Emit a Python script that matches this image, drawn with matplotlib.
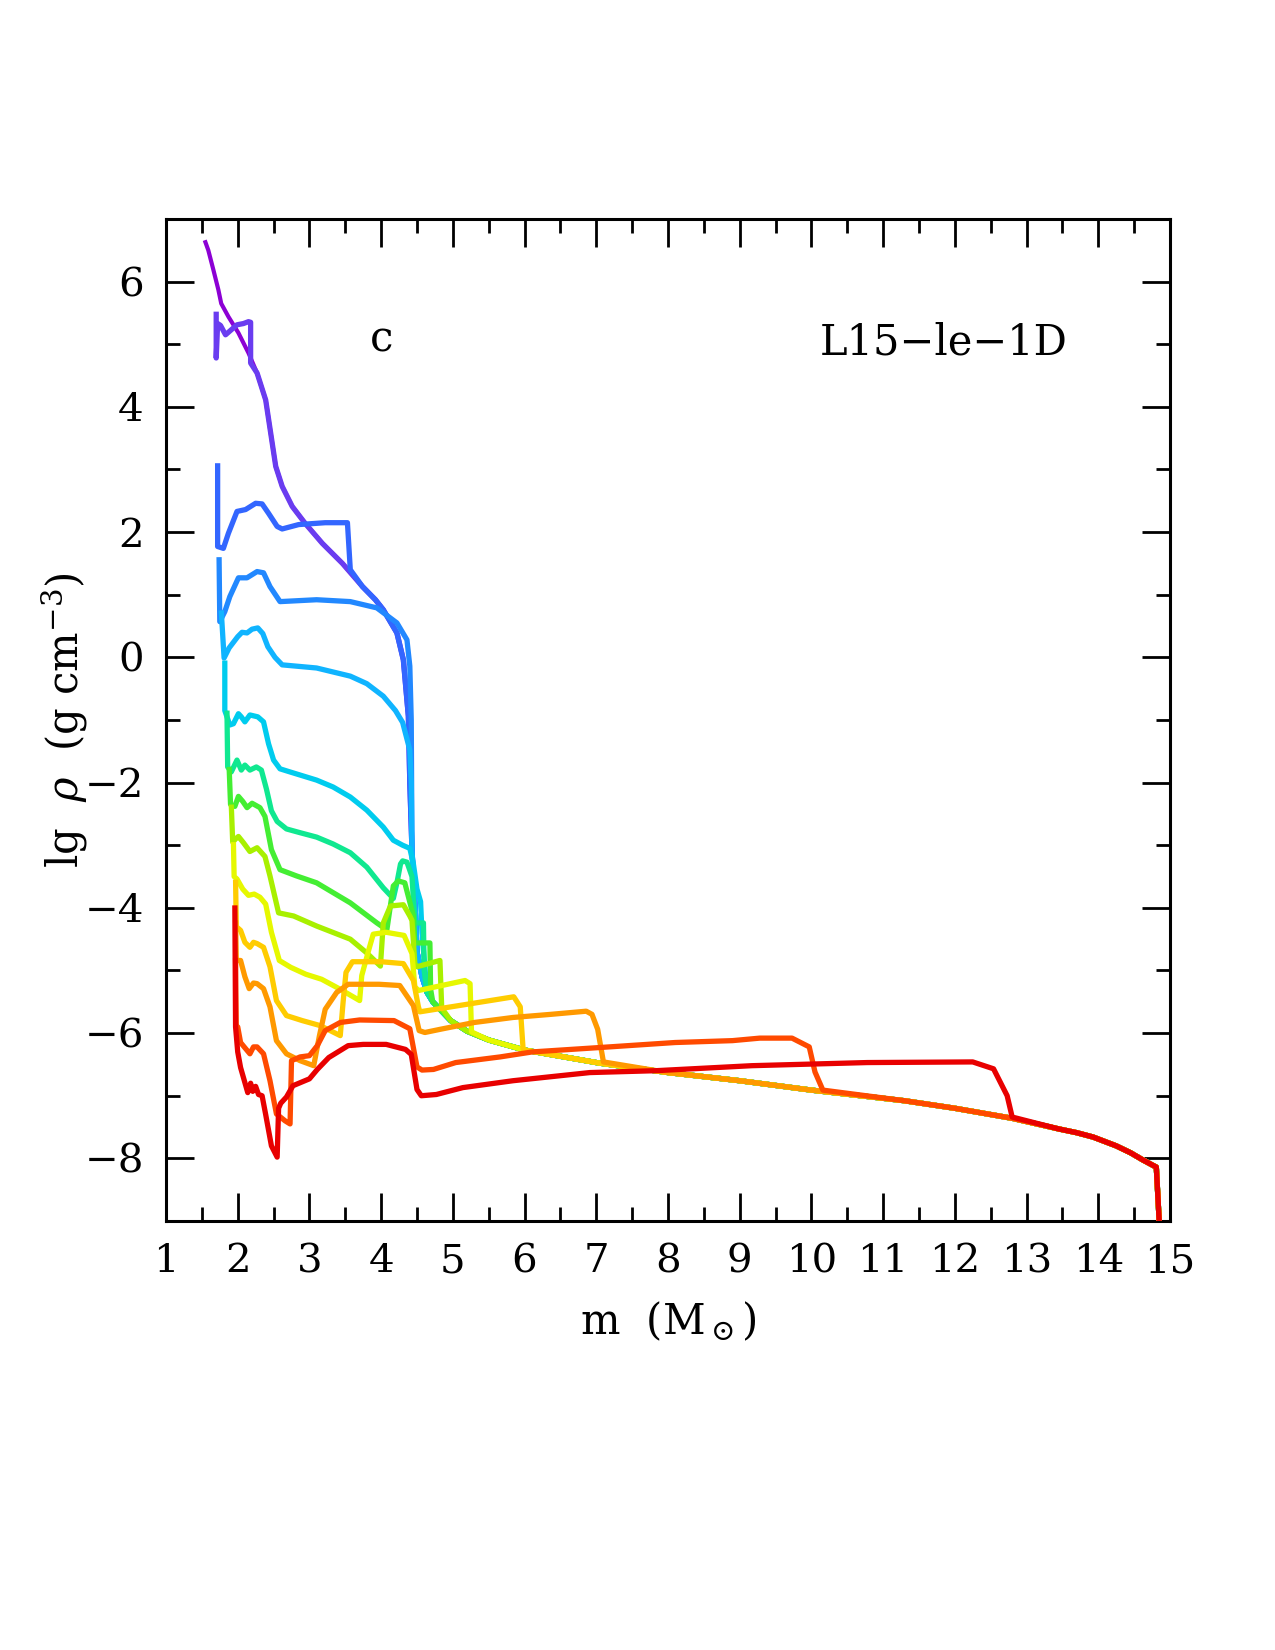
import matplotlib
matplotlib.use("Agg")
import matplotlib.pyplot as plt
import numpy as np

plt.rcParams['font.family'] = ['DejaVu Serif']
plt.rcParams['mathtext.fontset'] = 'dejavuserif'

# ---- progenitor (inner part) and common outer envelope ----
prog_m = [1.54, 1.59, 1.66, 1.73, 1.77, 1.87, 2.01, 2.15, 2.27, 2.39, 2.46, 2.53, 2.62,
          2.76, 2.94, 3.18, 3.46, 3.74, 3.92, 4.03, 4.22, 4.31, 4.38, 4.40, 4.43, 4.48]
prog_v = [6.66, 6.50, 6.19, 5.87, 5.65, 5.44, 5.18, 4.86, 4.54, 4.11, 3.58, 3.05, 2.73,
          2.41, 2.14, 1.82, 1.50, 1.13, 0.92, 0.76, 0.39, -0.04, -0.94, -2.00, -3.07, -4.13]
env_m = [4.50, 4.57, 4.64, 4.72, 4.82, 4.97, 5.20, 5.50, 6.00, 7.05, 8.00, 9.00, 10.00,
         11.30, 12.00, 12.80, 13.45, 13.70, 13.93, 14.25, 14.45, 14.63, 14.81, 14.85]
env_v = [-4.70, -5.10, -5.35, -5.50, -5.62, -5.80, -5.97, -6.11, -6.27, -6.48, -6.63, -6.76, -6.91,
         -7.08, -7.20, -7.36, -7.53, -7.59, -7.66, -7.80, -7.91, -8.03, -8.14, -9.00]

# ---- individual profiles (own part, before joining the progenitor/envelope) ----
violet_m = [1.70, 1.70, 1.72, 1.76, 1.83, 1.90, 1.99, 2.08, 2.15, 2.18, 2.18]
violet_v = [5.52, 4.78, 5.33, 5.30, 5.15, 5.22, 5.31, 5.33, 5.36, 5.35, 4.70]

blue_m = [1.72, 1.72, 1.80, 1.87, 1.99, 2.11, 2.25, 2.34, 2.43, 2.55, 2.62, 2.85, 3.22, 3.53, 3.57]
blue_v = [3.10, 1.77, 1.74, 1.98, 2.33, 2.36, 2.46, 2.45, 2.30, 2.09, 2.05, 2.12, 2.15, 2.15, 1.40]

azure_m = [1.74, 1.75, 1.82, 1.89, 2.01, 2.13, 2.27, 2.36, 2.45, 2.59, 3.10, 3.57, 3.94, 4.22,
           4.36, 4.40, 4.42]
azure_v = [1.60, 0.57, 0.73, 0.97, 1.27, 1.27, 1.37, 1.35, 1.13, 0.89, 0.92, 0.89, 0.79, 0.55,
           0.28, -0.14, -1.00]

lblue_m = [1.77, 1.81, 1.88, 2.00, 2.06, 2.13, 2.20, 2.28, 2.35, 2.42, 2.52, 2.62, 3.10, 3.57,
           3.80, 4.03, 4.20, 4.30, 4.40, 4.42]
lblue_v = [0.75, -0.01, 0.15, 0.33, 0.40, 0.39, 0.45, 0.47, 0.38, 0.17, 0.00, -0.12, -0.17, -0.30,
           -0.42, -0.62, -0.85, -1.04, -1.48, -2.00]

cyan_m = [1.82, 1.82, 1.89, 1.94, 2.01, 2.05, 2.10, 2.17, 2.28, 2.36, 2.43, 2.50, 2.59, 2.73,
          3.10, 3.33, 3.57, 3.80, 4.03, 4.17, 4.30, 4.40, 4.45, 4.50, 4.55, 4.57]
cyan_v = [-0.05, -0.85, -1.08, -1.06, -0.90, -0.95, -1.03, -0.92, -0.95, -1.03, -1.38, -1.64,
          -1.78, -1.83, -1.96, -2.07, -2.23, -2.44, -2.71, -2.92, -3.00, -3.05, -3.30, -3.70,
          -3.90, -4.40]

sgreen_m = [1.85, 1.86, 1.91, 1.99, 2.05, 2.10, 2.17, 2.26, 2.33, 2.40, 2.47, 2.55, 2.68, 2.87,
            3.10, 3.33, 3.57, 3.80, 4.03, 4.17, 4.22, 4.27, 4.30, 4.36, 4.43, 4.47, 4.59, 4.60]
sgreen_v = [-0.85, -1.75, -1.83, -1.64, -1.80, -1.72, -1.80, -1.75, -1.80, -2.10, -2.45, -2.62,
            -2.74, -2.80, -2.87, -2.98, -3.12, -3.35, -3.68, -3.85, -3.60, -3.30, -3.25, -3.27,
            -3.50, -4.24, -4.24, -5.00]

green_m = [1.88, 1.90, 1.96, 2.01, 2.07, 2.13, 2.20, 2.31, 2.38, 2.47, 2.59, 2.82, 3.10, 3.57,
           3.94, 4.08, 4.17, 4.24, 4.33, 4.45, 4.47, 4.68, 4.69]
green_v = [-1.75, -2.35, -2.38, -2.22, -2.30, -2.40, -2.33, -2.40, -2.54, -3.07, -3.39, -3.49,
           -3.60, -3.92, -4.24, -4.35, -3.65, -3.57, -3.60, -4.13, -4.56, -4.56, -5.30]

chart_m = [1.91, 1.93, 1.97, 2.01, 2.08, 2.17, 2.27, 2.38, 2.45, 2.57, 2.78, 3.10, 3.57, 3.80,
           3.99, 4.03, 4.13, 4.31, 4.40, 4.43, 4.47, 4.50, 4.82, 4.845]
chart_v = [-2.35, -2.95, -2.90, -2.86, -2.96, -3.10, -3.04, -3.18, -3.49, -4.08, -4.13, -4.29,
           -4.50, -4.72, -4.93, -4.24, -3.97, -3.95, -4.13, -4.20, -4.89, -4.94, -4.84, -5.60]

yellow_m = [1.94, 1.95, 1.99, 2.07, 2.15, 2.23, 2.31, 2.39, 2.47, 2.58, 2.74, 2.95, 3.17, 3.43,
            3.70, 3.73, 3.83, 3.89, 4.07, 4.32, 4.43, 4.47, 4.52, 5.17, 5.24, 5.26]
yellow_v = [-2.95, -3.50, -3.54, -3.70, -3.80, -3.78, -3.83, -3.94, -4.39, -4.84, -4.95, -5.06,
            -5.14, -5.30, -5.48, -5.08, -4.66, -4.42, -4.39, -4.44, -4.73, -5.26, -5.32, -5.16,
            -5.21, -5.98]

gold_m = [1.97, 1.98, 2.04, 2.10, 2.17, 2.22, 2.27, 2.36, 2.45, 2.54, 2.68, 2.90, 3.15, 3.43,
          3.47, 3.51, 3.60, 4.00, 4.31, 4.45, 4.52, 4.54, 5.85, 5.94, 5.98]
gold_v = [-3.55, -4.30, -4.36, -4.55, -4.63, -4.55, -4.57, -4.63, -4.94, -5.48, -5.72, -5.80,
          -5.88, -6.04, -5.50, -5.03, -4.86, -4.86, -4.89, -5.16, -5.58, -5.66, -5.42, -5.58,
          -6.26]

orange_m = [1.97, 1.98, 2.04, 2.10, 2.16, 2.22, 2.27, 2.36, 2.45, 2.54, 2.68, 2.87, 3.06, 3.14,
            3.22, 3.38, 3.54, 3.97, 4.26, 4.45, 4.53, 4.61, 4.82, 5.30, 5.84, 6.37, 6.86, 6.94,
            7.02, 7.10]
orange_v = [-4.20, -4.84, -4.84, -5.10, -5.29, -5.20, -5.21, -5.29, -5.58, -6.12, -6.33, -6.44,
            -6.52, -6.04, -5.62, -5.35, -5.22, -5.22, -5.24, -5.56, -5.96, -5.99, -5.94, -5.83,
            -5.75, -5.70, -5.65, -5.70, -5.94, -6.46]

ored_m = [1.97, 1.98, 2.00, 2.04, 2.09, 2.17, 2.22, 2.27, 2.36, 2.45, 2.54, 2.66, 2.73, 2.75,
          2.87, 3.00, 3.11, 3.22, 3.43, 3.70, 4.18, 4.40, 4.50, 4.57, 4.73, 5.04, 5.66, 6.11,
          7.05, 8.10, 8.90, 9.28, 9.73, 9.97, 10.05, 10.16]
ored_v = [-4.80, -5.90, -5.90, -6.15, -6.22, -6.33, -6.22, -6.22, -6.33, -6.76, -7.29, -7.40,
          -7.45, -6.44, -6.38, -6.36, -6.20, -5.96, -5.83, -5.79, -5.80, -5.93, -6.54, -6.59,
          -6.58, -6.47, -6.38, -6.30, -6.23, -6.15, -6.12, -6.08, -6.08, -6.22, -6.62, -6.91]

red_m = [1.96, 1.97, 2.00, 2.04, 2.09, 2.14, 2.18, 2.21, 2.25, 2.29, 2.34, 2.39, 2.47, 2.55,
         2.57, 2.60, 2.68, 2.77, 3.00, 3.11, 3.27, 3.54, 3.75, 4.07, 4.34, 4.42, 4.50, 4.56,
         4.77, 5.14, 5.84, 6.91, 7.83, 9.17, 10.78, 12.25, 12.54, 12.73, 12.80]
red_v = [-3.96, -5.90, -6.30, -6.55, -6.75, -6.95, -6.80, -6.93, -6.85, -6.98, -7.00, -7.30,
         -7.80, -7.98, -7.20, -7.12, -7.02, -6.84, -6.73, -6.58, -6.39, -6.20, -6.18, -6.18,
         -6.26, -6.34, -6.90, -7.00, -6.98, -6.87, -6.76, -6.63, -6.60, -6.52, -6.47, -6.46,
         -6.57, -7.00, -7.34]

colors = ['#8C00D4', '#6A3CF0', '#3366FF', '#2288FF', '#10B4FF', '#00CCEE', '#10E890',
          '#44EE33', '#A8F000', '#E6F800', '#FFCC00', '#FF9900', '#FF4A00', '#E80000']

# full progenitor profile = inner part + envelope
full_m = prog_m + env_m
full_v = prog_v + env_v


def with_tail(m, v):
    mm = list(m)
    vv = list(v)
    for a, b in zip(full_m, full_v):
        if a > mm[-1]:
            mm.append(a)
            vv.append(b)
    return mm, vv


profiles = [(full_m, full_v),
            with_tail(violet_m, violet_v),
            with_tail(blue_m, blue_v),
            with_tail(azure_m, azure_v),
            with_tail(lblue_m, lblue_v),
            with_tail(cyan_m, cyan_v),
            with_tail(sgreen_m, sgreen_v),
            with_tail(green_m, green_v),
            with_tail(chart_m, chart_v),
            with_tail(yellow_m, yellow_v),
            with_tail(gold_m, gold_v),
            with_tail(orange_m, orange_v),
            with_tail(ored_m, ored_v),
            with_tail(red_m, red_v)]

fig = plt.figure(figsize=(12.75, 16.5), dpi=100)
ax = fig.add_axes([0.1302, 0.26, 0.7874, 0.6073])

for i, ((m, v), c) in enumerate(zip(profiles, colors)):
    ax.plot(m, v, color=c, lw=3.0 if i == 0 else 3.8, solid_joinstyle='round',
            solid_capstyle='butt', zorder=2 + i)

ax.set_xlim(1, 15)
ax.set_ylim(-9, 7)
ax.set_xticks(np.arange(1, 16, 1))
ax.set_xticks(np.arange(1.5, 15, 1), minor=True)
ax.set_yticks(np.arange(-8, 7, 2))
ax.set_yticks(np.arange(-9, 8, 1), minor=True)

ax.tick_params(which='both', direction='in', top=True, right=True, width=2.0, colors='black')
ax.tick_params(which='major', length=20, labelsize=29, pad=16)
ax.tick_params(which='minor', length=10)
for s in ax.spines.values():
    s.set_linewidth(2.2)

ax.set_xlabel(r'm  (M$_\odot$)', fontsize=30, labelpad=14)
ax.set_ylabel(r'lg  $\rho$  (g cm$^{-3}$)', fontsize=30, labelpad=-4)

ax.text(4.0, 5.08, 'c', fontsize=30, ha='center', va='center', zorder=20)
ax.text(11.85, 5.03, 'L15\u2212le\u22121D', fontsize=30, ha='center', va='center', zorder=20)

fig.savefig('out.png', dpi=100)
